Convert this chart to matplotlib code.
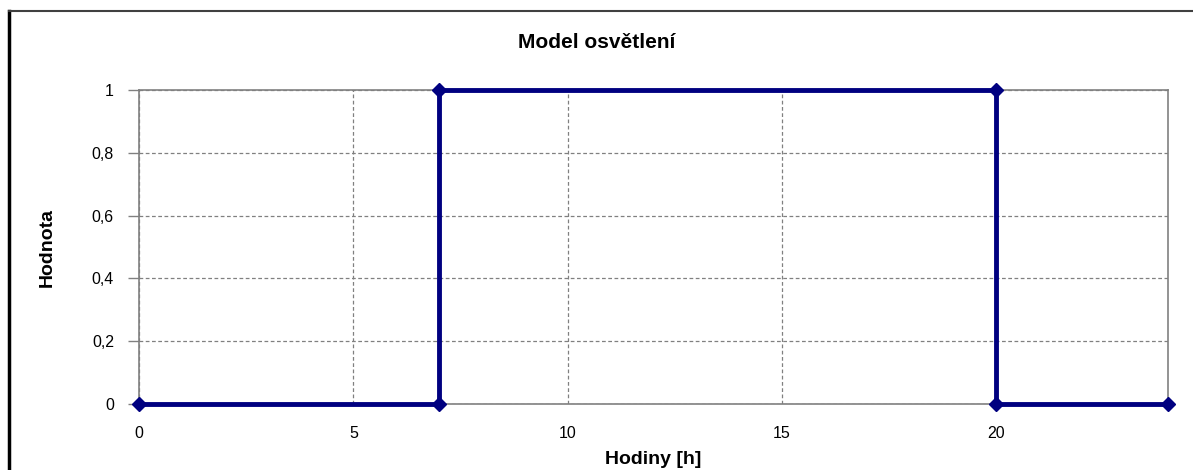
import matplotlib
matplotlib.use("Agg")
import matplotlib.pyplot as plt
from matplotlib.lines import Line2D
from matplotlib.ticker import FuncFormatter

hours = [0, 7, 7, 20, 20, 24]
values = [0, 0, 1, 1, 0, 0]
x_ticks = [0, 5, 10, 15, 20]
y_ticks = [0, 0.2, 0.4, 0.6, 0.8, 1]

plt.rcParams['font.family'] = ['Liberation Sans', 'DejaVu Sans']

fig = plt.figure(figsize=(11.93, 4.70), dpi=100)
ax = fig.add_axes([0.1165, 0.1404, 0.8625, 0.6681])

ax.plot(hours, values, color='#000080', linewidth=3.5, marker='D', markersize=7,
        clip_on=False, zorder=5)

ax.set_xlim(0, 24)
ax.set_ylim(0, 1)
ax.set_xticks(x_ticks)
ax.set_yticks(y_ticks)
ax.yaxis.set_major_formatter(FuncFormatter(lambda v, p: ('%g' % v).replace('.', ',')))
ax.grid(True, color='#808080', linestyle=(0, (3, 2)), linewidth=0.9)
ax.tick_params(axis='both', labelsize=11.5, color='#808080', length=8, width=1)
ax.tick_params(axis='x', length=0, pad=16)
ax.tick_params(axis='y', pad=10)
for s in ax.spines.values():
    s.set_color('#808080')
    s.set_linewidth(1.2)

ax.set_xlabel('Hodiny [h]', fontsize=14, fontweight='bold', labelpad=7)
ax.set_ylabel('Hodnota', fontsize=14, fontweight='bold', labelpad=26)
fig.text(0.5, 0.91, 'Model osvětlení', fontsize=15, fontweight='bold', ha='center', va='center')

# outer frame of the chart area
fig.add_artist(Line2D([9 / 1193, 9 / 1193], [0, 1 - 11 / 470], color='black', linewidth=2.5,
                      transform=fig.transFigure))
fig.add_artist(Line2D([9 / 1193, 1], [1 - 11 / 470, 1 - 11 / 470], color='#404040', linewidth=1.5,
                      transform=fig.transFigure))

fig.savefig('out.png', dpi=100)
